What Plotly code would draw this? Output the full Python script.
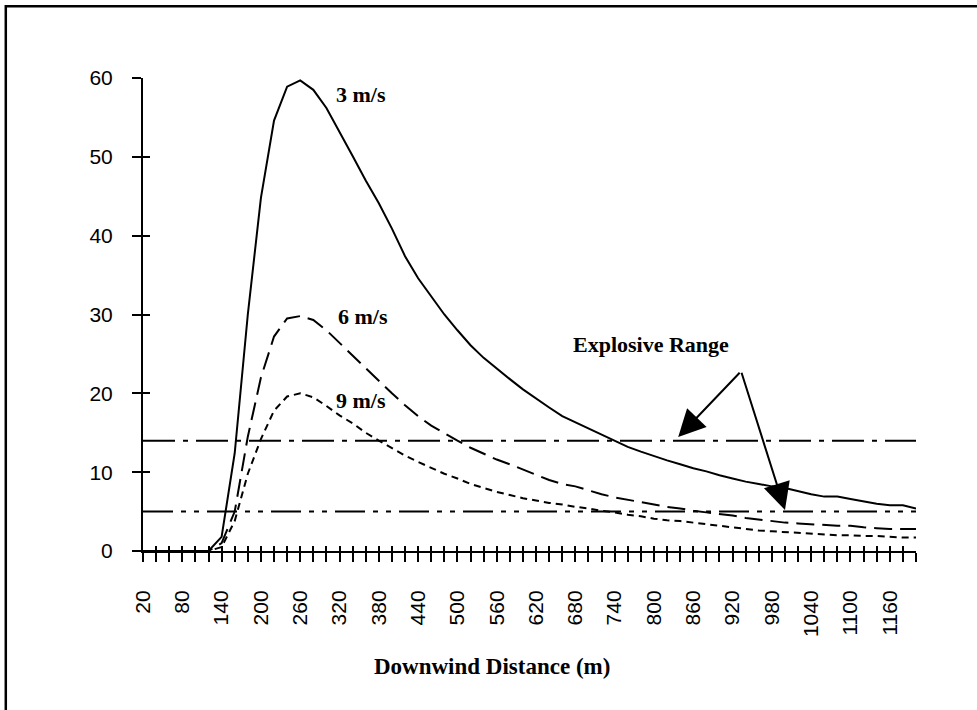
import plotly.graph_objects as go

# ---- data ----
distance_m = [20, 40, 60, 80, 100, 120, 140, 160, 180, 200,
              220, 240, 260, 280, 300, 320, 340, 360, 380, 400,
              420, 440, 460, 480, 500, 520, 540, 560, 580, 600,
              620, 640, 660, 680, 700, 720, 740, 760, 780, 800,
              820, 840, 860, 880, 900, 920, 940, 960, 980, 1000,
              1020, 1040, 1060, 1080, 1100, 1120, 1140, 1160, 1180, 1200]

conc_3ms = [0, 0, 0, 0, 0, 0, 1.8, 12.4, 30.0, 44.8,
            54.6, 58.9, 59.7, 58.5, 56.2, 53.2, 50.1, 47.0, 44.1, 40.9,
            37.4, 34.6, 32.3, 30.0, 28.0, 26.1, 24.5, 23.1, 21.8, 20.5,
            19.3, 18.2, 17.1, 16.3, 15.5, 14.8, 14.0, 13.2, 12.6, 12.0,
            11.5, 11.0, 10.5, 10.1, 9.6, 9.2, 8.8, 8.5, 8.2, 8.0,
            7.6, 7.2, 6.9, 6.9, 6.6, 6.3, 6.0, 5.8, 5.8, 5.4]

conc_6ms = [0, 0, 0, 0, 0, 0, 1.0, 5.0, 14.5, 22.0,
            27.2, 29.5, 29.8, 29.3, 28.0, 26.4, 24.7, 23.1, 21.5, 20.0,
            18.5, 17.1, 15.9, 14.9, 14.0, 13.1, 12.3, 11.6, 11.0, 10.3,
            9.7, 9.0, 8.5, 8.2, 7.7, 7.2, 6.8, 6.5, 6.2, 5.9,
            5.6, 5.4, 5.1, 4.9, 4.7, 4.5, 4.2, 4.0, 3.8, 3.6,
            3.5, 3.4, 3.3, 3.2, 3.2, 3.0, 2.9, 2.8, 2.8, 2.8]

conc_9ms = [0, 0, 0, 0, 0, 0, 0.5, 3.8, 9.8, 14.2,
            17.8, 19.6, 20.0, 19.5, 18.4, 17.2, 16.2, 15.0, 14.0, 13.0,
            12.1, 11.3, 10.5, 9.8, 9.2, 8.5, 8.0, 7.5, 7.1, 6.7,
            6.4, 6.1, 5.9, 5.6, 5.4, 5.1, 4.9, 4.6, 4.4, 4.1,
            3.9, 3.8, 3.6, 3.4, 3.2, 3.0, 2.8, 2.6, 2.5, 2.4,
            2.3, 2.2, 2.1, 2.0, 2.0, 1.9, 1.9, 1.8, 1.7, 1.7]

lower_limit = 5.0
upper_limit = 14.0

x_tick_labels = ["20", "80", "140", "200", "260", "320", "380", "440", "500", "560",
                 "620", "680", "740", "800", "860", "920", "980", "1040", "1100", "1160"]
y_tick_values = [0, 10, 20, 30, 40, 50, 60]

series_labels = ["3 m/s", "6 m/s", "9 m/s"]

# ---- figure ----
serif = "Liberation Serif"
sans = "Liberation Sans"
black = "#000000"

fig = go.Figure()

x_ends = [distance_m[0], distance_m[-1]]
fig.add_trace(go.Scatter(x=x_ends, y=[upper_limit, upper_limit], mode="lines",
                         line=dict(color=black, width=2, dash="32px,8px,5px,8px"),
                         hoverinfo="skip"))
fig.add_trace(go.Scatter(x=x_ends, y=[lower_limit, lower_limit], mode="lines",
                         line=dict(color=black, width=2, dash="30px,8px,5px,8px,5px,8px"),
                         hoverinfo="skip"))

fig.add_trace(go.Scatter(x=distance_m, y=conc_9ms, mode="lines", name=series_labels[2],
                         line=dict(color=black, width=2, dash="7px,5px")))
fig.add_trace(go.Scatter(x=distance_m, y=conc_6ms, mode="lines", name=series_labels[1],
                         line=dict(color=black, width=2, dash="18px,8px")))
fig.add_trace(go.Scatter(x=distance_m, y=conc_3ms, mode="lines", name=series_labels[0],
                         line=dict(color=black, width=2)))

# invisible trace to carry the overlay axes (inner halves of the cross ticks)
fig.add_trace(go.Scatter(x=[distance_m[0]], y=[0], mode="markers", marker=dict(opacity=0),
                         xaxis="x2", yaxis="y2", hoverinfo="skip"))

tick_text = [str(d) if str(d) in x_tick_labels else "" for d in distance_m]

fig.update_layout(
    width=977, height=710,
    margin=dict(l=143, r=61, t=77.7, b=159),
    paper_bgcolor="white", plot_bgcolor="white",
    showlegend=False,
    xaxis=dict(range=[distance_m[0], distance_m[-1]], tickmode="array",
               tickvals=distance_m, ticktext=tick_text, tickangle=-90,
               ticks="outside", ticklen=9, tickwidth=2, tickcolor=black,
               showline=True, linecolor=black, linewidth=2, showgrid=False, zeroline=False,
               tickfont=dict(family=sans, size=21, color=black), ticklabelstandoff=20),
    yaxis=dict(range=[0, 60], tickmode="array", tickvals=y_tick_values,
               ticks="outside", ticklen=9, tickwidth=2, tickcolor=black,
               showline=True, linecolor=black, linewidth=2, showgrid=False, zeroline=False,
               tickfont=dict(family=sans, size=21, color=black), ticklabelstandoff=15),
    xaxis2=dict(overlaying="x", matches="x", tickmode="array", tickvals=distance_m,
                ticks="inside", ticklen=5, tickwidth=2, tickcolor=black,
                showticklabels=False, showline=False, showgrid=False, zeroline=False),
    yaxis2=dict(overlaying="y", matches="y", tickmode="array", tickvals=y_tick_values,
                ticks="inside", ticklen=7, tickwidth=2, tickcolor=black,
                showticklabels=False, showline=False, showgrid=False, zeroline=False),
)

label_font = dict(family=serif, size=22, color=black)
fig.add_annotation(x=353, y=57.9, text="<b>3 m/s</b>", showarrow=False, font=label_font)
fig.add_annotation(x=356, y=29.8, text="<b>6 m/s</b>", showarrow=False, font=label_font)
fig.add_annotation(x=353, y=19.1, text="<b>9 m/s</b>", showarrow=False, font=label_font)
fig.add_annotation(x=795, y=26.2, text="<b>Explosive Range</b>", showarrow=False, font=label_font)
fig.add_annotation(x=553, xref="x", y=-0.274, yref="paper", text="<b>Downwind Distance (m)</b>",
                   showarrow=False, font=dict(family=serif, size=23, color=black))

# arrows from the common tail to each limit line
for tip_x, tip_y in [(837, 14.45), (1000, 5.2)]:
    fig.add_annotation(x=tip_x, y=tip_y, ax=933, ay=22.8, axref="x", ayref="y",
                       text="", showarrow=True, arrowhead=2, arrowsize=2.7,
                       arrowwidth=2, arrowcolor=black, standoff=0)

# outer chart frame (left and top edges visible)
fig.add_shape(type="rect", xref="paper", yref="paper", x0=-0.1775, x1=1.3, y0=-0.5, y1=1.1515,
              line=dict(color=black, width=2.5), fillcolor="rgba(0,0,0,0)", layer="above")

fig.write_html("out.html", config={"displayModeBar": False},
               post_script="document.body.style.margin='0';document.body.style.padding='0';")
